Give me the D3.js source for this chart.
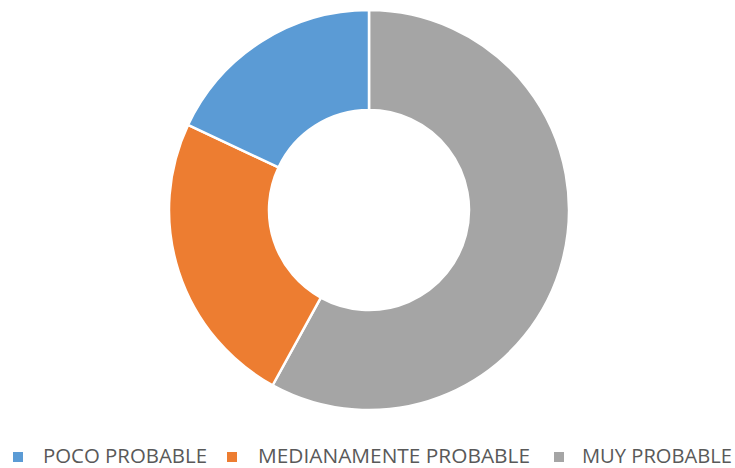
<!DOCTYPE html>
<html>
<head>
<meta charset="utf-8">
<script src="https://cdn.jsdelivr.net/npm/d3@7"></script>
<style>
  html, body { margin: 0; padding: 0; background: #fff; }
  svg { display: block; }
</style>
</head>
<body>
<svg id="chart" width="735" height="468"></svg>
<script>
// Categories as listed in the legend
const categories = ["POCO PROBABLE", "MEDIANAMENTE PROBABLE", "MUY PROBABLE"];
// Share of responses (%)
const values = [18, 24, 58];
const colors = ["#5B9BD5", "#ED7D31", "#A5A5A5"];
// Ring is drawn clockwise from 12 o'clock in this order
const drawOrder = [2, 1, 0];

const svg = d3.select("#chart");
const cx = 369, cy = 210, outerR = 200, innerR = 100;

const data = categories.map((c, i) => ({ name: c, value: values[i], color: colors[i] }));
const ringData = drawOrder.map(i => data[i]);

const pie = d3.pie().value(d => d.value).sort(null);
const arc = d3.arc().innerRadius(innerR).outerRadius(outerR);

svg.append("g")
  .attr("transform", `translate(${cx},${cy})`)
  .selectAll("path")
  .data(pie(ringData))
  .join("path")
  .attr("d", arc)
  .attr("fill", d => d.data.color)
  .attr("stroke", "#fff")
  .attr("stroke-width", 2.5)
  .attr("stroke-linejoin", "round");

// Legend
const legendX = [13, 227, 554];
const textDx = [30, 31, 28];
const textW = [164, 272, 150];
const legend = svg.append("g").selectAll("g")
  .data(data)
  .join("g")
  .attr("transform", (d, i) => `translate(${legendX[i]},452)`);

legend.append("rect")
  .attr("width", 10).attr("height", 10)
  .attr("fill", d => d.color);

legend.append("text")
  .attr("x", (d, i) => textDx[i])
  .attr("y", 11)
  .attr("font-family", "'Liberation Sans Narrow', 'Open Sans', sans-serif")
  .attr("font-size", 19.5)
  .attr("fill", "#595959")
  .attr("textLength", (d, i) => textW[i])
  .attr("lengthAdjust", "spacingAndGlyphs")
  .text(d => d.name);
</script>
</body>
</html>
